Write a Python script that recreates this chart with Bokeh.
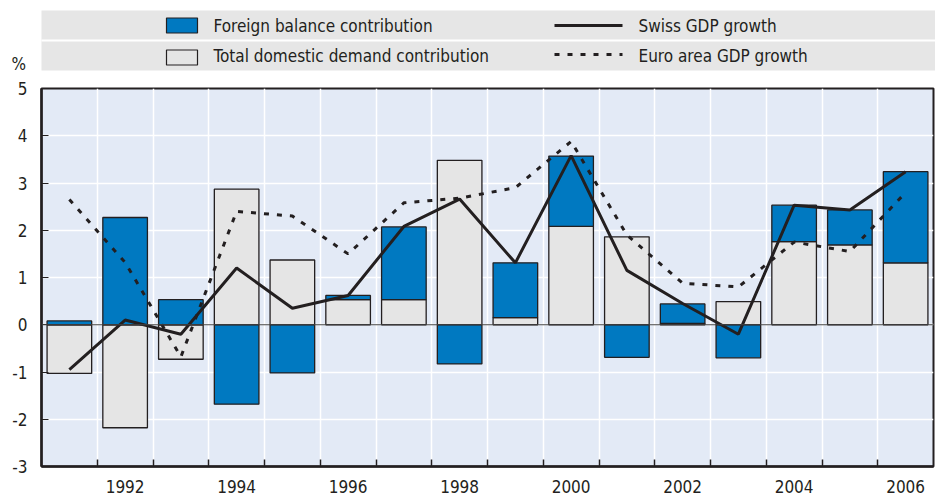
from bokeh.plotting import figure
from bokeh.models import Range1d, FixedTicker, Span, ColumnDataSource
from bokeh.layouts import column
from bokeh.core.properties import value
from bokeh.embed import file_html
from bokeh.resources import INLINE

# ---------------- data ----------------
years = list(range(1991, 2007))
foreign = [0.08, 2.27, 0.53, -1.68, -1.02, 0.09, 1.54, -0.83, 1.16, 1.49, -0.69, 0.41, -0.70, 0.77, 0.74, 1.93]
domestic = [-1.03, -2.18, -0.73, 2.87, 1.37, 0.53, 0.53, 3.48, 0.15, 2.08, 1.86, 0.03, 0.49, 1.76, 1.69, 1.31]
swiss = [-0.95, 0.10, -0.20, 1.20, 0.35, 0.62, 2.08, 2.66, 1.31, 3.58, 1.15, 0.45, -0.20, 2.53, 2.43, 3.24]
euro = [2.65, 1.32, -0.68, 2.40, 2.30, 1.50, 2.58, 2.68, 2.90, 3.88, 1.90, 0.88, 0.80, 1.75, 1.55, 2.80]
y_ticks = [-3, -2, -1, 0, 1, 2, 3, 4, 5]
x_label_years = [1992, 1994, 1996, 1998, 2000, 2002, 2004, 2006]
legend_labels = ["Foreign balance contribution", "Total domestic demand contribution",
                 "Swiss GDP growth", "Euro area GDP growth"]

FONT = "DejaVu Sans Condensed, Roboto"
FS = "17px"
DARK = "#231f20"
BLUE = "#0079c1"
GREY = "#e5e5e5"
BG = "#e3eaf6"

# stacking (positives up, negatives down)
dom_bottom = [min(0, d) for d in domestic]
dom_top = [max(0, d) for d in domestic]
f_bottom, f_top = [], []
for d, f in zip(domestic, foreign):
    base = d if d * f > 0 else 0.0
    f_bottom.append(min(base, base + f))
    f_top.append(max(base, base + f))

src = ColumnDataSource(dict(x=years, db=dom_bottom, dt=dom_top, fb=f_bottom, ft=f_top,
                            swiss=swiss, euro=euro))

# ---------------- legend strip ----------------
W = 935
LH = 80
leg = figure(width=W, height=LH, x_range=Range1d(0, W), y_range=Range1d(LH, 0),
             output_backend="svg", toolbar_location=None, x_axis_type=None, y_axis_type=None,
             min_border=0, outline_line_color=None, frame_align=False)
leg.grid.visible = False
leg.quad(left=[41], right=[W], top=[10], bottom=[70], fill_color="#e6e6e6", line_color=None)
leg.segment(x0=[41], x1=[W], y0=[40], y1=[40], line_color="white", line_width=2)
leg.quad(left=[166], right=[197], top=[17.5], bottom=[32.5], fill_color=BLUE, line_color=DARK, line_width=1.2)
leg.quad(left=[166], right=[197], top=[49.5], bottom=[64.5], fill_color=GREY, line_color=DARK, line_width=1.2)
leg.line(x=[554, 622], y=[25, 25], line_color=DARK, line_width=3)
leg.line(x=[554, 622], y=[54, 54], line_color=DARK, line_width=3, line_dash="5 8")
leg.text(x=[213, 213, 638, 638], y=[25, 55, 25, 55], text=legend_labels,
         text_font=value(FONT), text_font_size=FS, text_color=DARK,
         text_baseline="middle", text_align="left")
leg.text(x=[11], y=[63], text=["%"], text_font=value(FONT), text_font_size=FS,
         text_color=DARK, text_baseline="middle", text_align="left")

# ---------------- main chart ----------------
p = figure(width=W, height=496 - LH, x_range=Range1d(1990.5, 2006.5), y_range=Range1d(-3, 5),
           output_backend="svg", toolbar_location=None, frame_align=False,
           min_border_left=41, min_border_right=2, min_border_top=8, min_border_bottom=30)
p.background_fill_color = BG
p.outline_line_color = DARK
p.outline_line_width = 2

boundaries = [y + 0.5 for y in years[:-1]]
p.xaxis.ticker = FixedTicker(ticks=x_label_years, minor_ticks=boundaries)
p.xaxis.major_tick_in = 0
p.xaxis.major_tick_out = 0
p.xaxis.minor_tick_in = 7
p.xaxis.minor_tick_out = 0
p.xaxis.minor_tick_line_color = DARK
p.xaxis.minor_tick_line_width = 1.5
p.xaxis.major_label_standoff = 13
p.xgrid.ticker = FixedTicker(ticks=boundaries)

p.yaxis.ticker = FixedTicker(ticks=y_ticks)
p.yaxis.major_tick_in = 7
p.yaxis.major_tick_out = 0
p.yaxis.minor_tick_line_color = None
p.yaxis.major_tick_line_color = DARK
p.yaxis.major_label_standoff = 14
p.yaxis.major_label_overrides = {t: str(t) for t in y_ticks}
p.ygrid.ticker = FixedTicker(ticks=y_ticks)

for ax in (p.xaxis, p.yaxis):
    ax.axis_line_color = DARK
    ax.axis_line_width = 2.5
    ax.major_label_text_font = FONT
    ax.major_label_text_font_size = FS
    ax.major_label_text_color = DARK

p.grid.grid_line_color = "white"
p.grid.grid_line_width = 1.5

p.vbar(x="x", bottom="db", top="dt", width=0.8, source=src,
       fill_color=GREY, line_color=DARK, line_width=1.3)
p.vbar(x="x", bottom="fb", top="ft", width=0.8, source=src,
       fill_color=BLUE, line_color=DARK, line_width=1.3)

p.add_layout(Span(location=0, dimension="width", line_color="#444444", line_width=1))

p.line(x="x", y="euro", source=src, line_color=DARK, line_width=3, line_dash="5 8")
p.line(x="x", y="swiss", source=src, line_color=DARK, line_width=3)

layout = column(leg, p, spacing=0)
open("out.html", "w").write(file_html(layout, INLINE))
